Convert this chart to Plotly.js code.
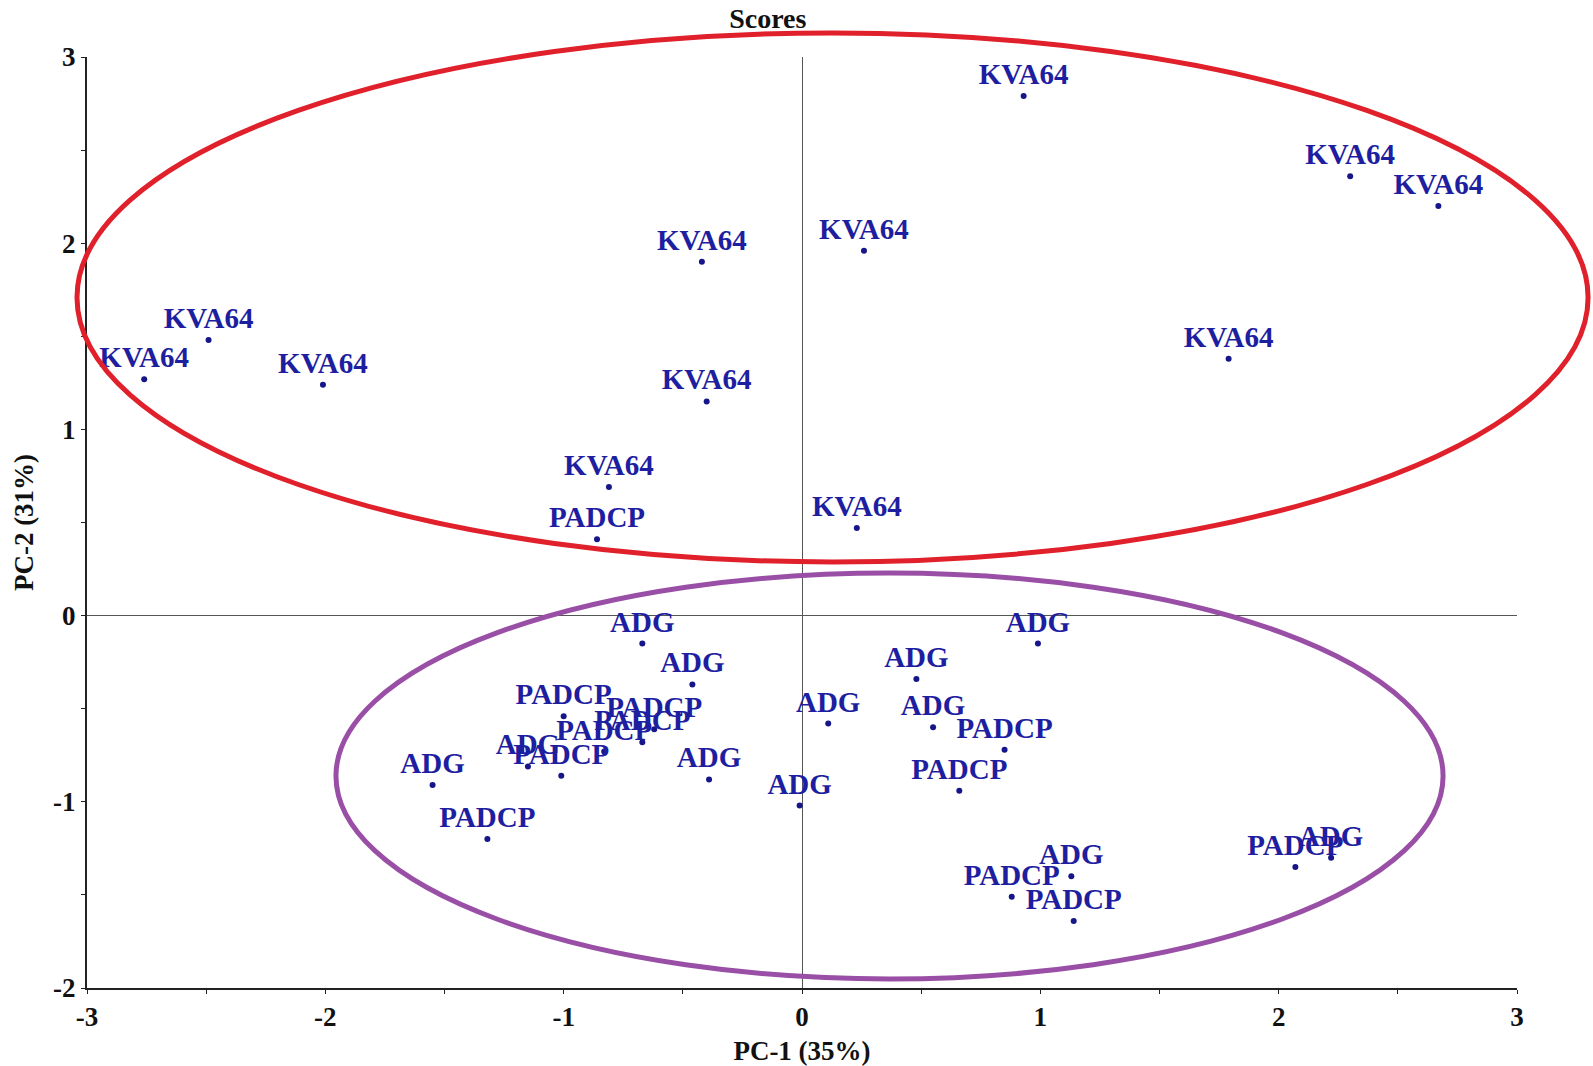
<!DOCTYPE html>
<html>
<head>
<meta charset="utf-8">
<script src="https://cdn.plot.ly/plotly-3.0.1.min.js"></script>
<style>html,body{margin:0;padding:0;background:#fff;}#chart{width:1593px;height:1066px;}</style>
</head>
<body>
<div id="chart"></div>
<script>
// Scores (PC-1 vs PC-2)
const kvaX = [0.93, 2.30, 2.67, 0.26, -0.42, -2.49, -2.76, -2.01, 1.79, -0.40, -0.81, 0.23];
const kvaY = [2.79, 2.36, 2.20, 1.96, 1.90, 1.48, 1.27, 1.24, 1.38, 1.15, 0.69, 0.47];

const padcpX = [-0.86, -1.00, -0.62, -0.67, -0.83, -1.01, -1.32, 0.85, 0.66, 0.88, 1.14, 2.07];
const padcpY = [0.41, -0.54, -0.61, -0.68, -0.73, -0.86, -1.20, -0.72, -0.94, -1.51, -1.64, -1.35];

const adgX = [-0.67, -0.46, -1.15, -1.55, -0.39, -0.01, 0.11, 0.99, 0.48, 0.55, 1.13, 2.22];
const adgY = [-0.15, -0.37, -0.81, -0.91, -0.88, -1.02, -0.58, -0.15, -0.34, -0.60, -1.40, -1.30];

const groupNames = ["KVA64", "PADCP", "ADG"];
const tickVals = [-3, -2.5, -2, -1.5, -1, -0.5, 0, 0.5, 1, 1.5, 2, 2.5, 3];
const tickText = ["-3", "", "-2", "", "-1", "", "0", "", "1", "", "2", "", "3"];

const FONT = "'Liberation Serif', 'Times New Roman', serif";
const markColor = "#16168a";
const textColor = "#1e1ea0";

function trace(xs, ys, name) {
  return {
    type: "scatter",
    mode: "markers+text",
    x: xs, y: ys,
    text: xs.map(() => name),
    textposition: "top center",
    textfont: {family: FONT, size: 29, color: textColor, weight: "bold"},
    marker: {size: 6, color: markColor},
    name: name,
    hoverinfo: "x+y+text",
    cliponaxis: false
  };
}

const data = [
  trace(kvaX, kvaY, groupNames[0]),
  trace(padcpX, padcpY, groupNames[1]),
  trace(adgX, adgY, groupNames[2])
];

const axisCommon = {
  showgrid: false,
  zeroline: true,
  zerolinecolor: "#555",
  zerolinewidth: 1,
  showline: true,
  linecolor: "#222",
  linewidth: 2,
  ticks: "outside",
  ticklen: 4,
  tickwidth: 1,
  tickcolor: "#222",
  tickfont: {family: FONT, size: 27, color: "#111", weight: "bold"},
  automargin: false
};

const layout = {
  width: 1593, height: 1066,
  margin: {l: 87, r: 76, t: 57, b: 78},
  paper_bgcolor: "#fff",
  plot_bgcolor: "#fff",
  showlegend: false,
  title: {
    text: "Scores",
    font: {family: FONT, size: 28, color: "#111", weight: "bold"},
    x: 0.482, xref: "container", xanchor: "center",
    y: 0.983, yref: "container", yanchor: "middle"
  },
  xaxis: Object.assign({}, axisCommon, {
    range: [-3, 3],
    tickmode: "array", tickvals: tickVals, ticktext: tickText,
    title: {text: "PC-1 (35%)", font: {family: FONT, size: 27, color: "#111", weight: "bold"}, standoff: 12}
  }),
  yaxis: Object.assign({}, axisCommon, {
    range: [-2, 3],
    tickmode: "array", tickvals: tickVals.slice(2, 13), ticktext: tickText.slice(2, 13),
    title: {text: "PC-2 (31%)", font: {family: FONT, size: 27, color: "#111", weight: "bold"}, standoff: 12}
  }),
  shapes: [
    {type: "circle", xref: "paper", yref: "paper",
     x0: -0.007, x1: 1.0497, y0: 0.4576, y1: 1.0258,
     line: {color: "#e0202a", width: 5}, layer: "above"},
    {type: "circle", xref: "paper", yref: "paper",
     x0: 0.1741, x1: 0.9483, y0: 0.0097, y1: 0.4458,
     line: {color: "#9a4fa6", width: 5}, layer: "above"}
  ]
};

Plotly.newPlot("chart", data, layout, {displayModeBar: false, staticPlot: true});
</script>
</body>
</html>
